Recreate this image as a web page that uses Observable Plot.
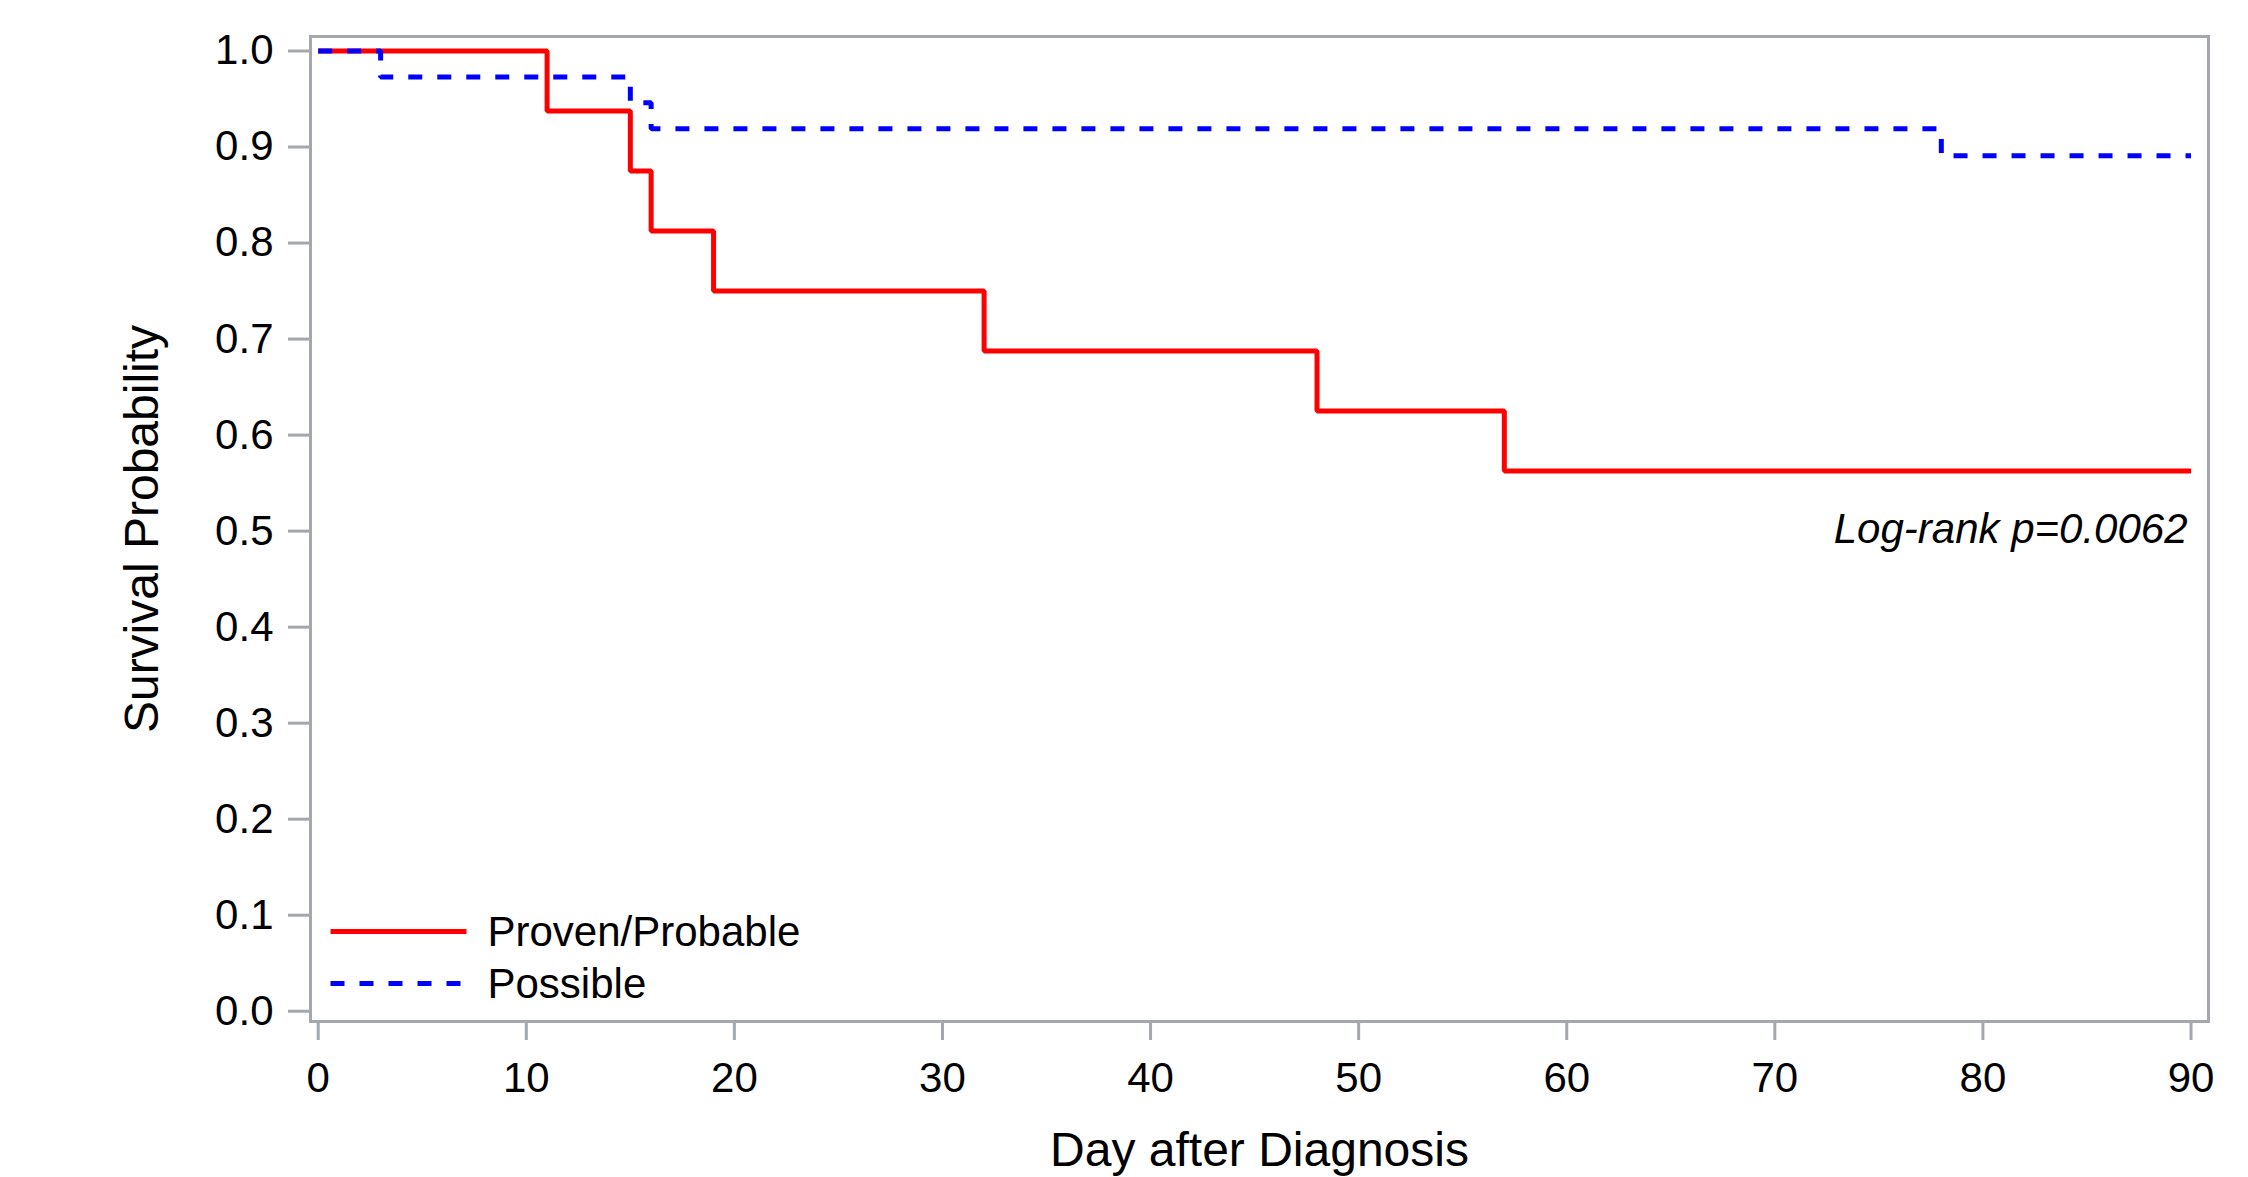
<!DOCTYPE html>
<html>
<head>
<meta charset="utf-8">
<script src="https://cdn.jsdelivr.net/npm/d3@7"></script>
<script src="https://cdn.jsdelivr.net/npm/@observablehq/plot@0.6"></script>
<style>
  html, body { margin: 0; padding: 0; background: #ffffff; }
  #chart svg { display: block; }
</style>
</head>
<body>
<div id="chart"></div>
<script>
// ---- Data ----
const seriesNames = ["Proven/Probable", "Possible"];
const provenDays = [0, 11, 15, 16, 19, 32, 48, 57, 90];
const provenSurvival = [1.0, 0.9375, 0.875, 0.8125, 0.75, 0.6875, 0.625, 0.5625, 0.5625];
const possibleDays = [0, 3, 15, 16, 78, 90];
const possibleSurvival = [1.0, 0.973, 0.946, 0.919, 0.891, 0.891];
const xTicks = [0, 10, 20, 30, 40, 50, 60, 70, 80, 90];
const yTicks = [0, 0.1, 0.2, 0.3, 0.4, 0.5, 0.6, 0.7, 0.8, 0.9, 1.0];
const xLabel = "Day after Diagnosis";
const yLabel = "Survival Probability";
const annotation = "Log-rank p=0.0062";

// ---- Build tables ----
const proven = provenDays.map((d, i) => ({day: d, surv: provenSurvival[i], group: seriesNames[0]}));
const possible = possibleDays.map((d, i) => ({day: d, surv: possibleSurvival[i], group: seriesNames[1]}));

const RED = "#ff0000";
const BLUE = "#0000ff";
const GRAY = "#a4a8ac";
const DASH = "14,15";
const LW = 5;

// horizontal line symbol for legend swatches
const lineSymbol = {
  draw(context, size) {
    const h = Math.sqrt(size / Math.PI);
    context.moveTo(-h, 0);
    context.lineTo(h, 0);
  }
};

const legendColors = [RED, BLUE];
const legendDash = [null, DASH];
const legendDy = [-90, -38];

const legendMarks = seriesNames.flatMap((name, i) => [
  Plot.dot([name], {
    frameAnchor: "bottom-left", dx: 88, dy: legendDy[i],
    symbol: lineSymbol, r: 68, fill: "none",
    stroke: legendColors[i], strokeWidth: LW,
    strokeDasharray: legendDash[i] ?? undefined, strokeLinecap: "butt"
  }),
  Plot.text([name], {
    text: d => d, frameAnchor: "bottom-left", dx: 177, dy: legendDy[i] + 1,
    textAnchor: "start", lineAnchor: "middle", fontSize: 42, fill: "black"
  })
]);

const chart = Plot.plot({
  width: 2248,
  height: 1177,
  marginLeft: 310,
  marginRight: 40,
  marginTop: 36,
  marginBottom: 156,
  style: {fontFamily: "'Liberation Sans', Arial, sans-serif", fontSize: "42px", background: "#ffffff", color: "black"},
  x: {domain: [-0.37, 90.84]},
  y: {domain: [-0.0107, 1.0151]},
  marks: [
    Plot.frame({stroke: GRAY, strokeWidth: 3}),
    Plot.axisX(xTicks, {
      tickSize: 19, tickPadding: 22, stroke: GRAY, strokeWidth: 3,
      fill: "black", fontSize: 42, label: null, tickFormat: d3.format("d")
    }),
    Plot.axisY(yTicks, {
      tickSize: 22, tickPadding: 15, stroke: GRAY, strokeWidth: 3,
      fill: "black", fontSize: 42, label: null, tickFormat: d3.format(".1f")
    }),
    Plot.line(proven, {
      x: "day", y: "surv", curve: "step-after",
      stroke: RED, strokeWidth: LW, strokeLinejoin: "miter", strokeLinecap: "butt"
    }),
    Plot.line(possible, {
      x: "day", y: "surv", curve: "step-after",
      stroke: BLUE, strokeWidth: LW, strokeDasharray: DASH, strokeLinejoin: "miter", strokeLinecap: "butt"
    }),
    Plot.text([annotation], {
      text: d => d, frameAnchor: "right", dx: -21, dy: 1,
      textAnchor: "end", lineAnchor: "middle", fontSize: 42, fontStyle: "italic", fill: "black"
    }),
    Plot.text([xLabel], {
      text: d => d, frameAnchor: "bottom", dy: 129, textAnchor: "middle", lineAnchor: "middle",
      fontSize: 48, fill: "black"
    }),
    Plot.text([yLabel], {
      text: d => d, frameAnchor: "left", rotate: -90, dx: -168, textAnchor: "middle", lineAnchor: "middle",
      fontSize: 48, fill: "black"
    }),
    ...legendMarks
  ]
});

document.getElementById("chart").appendChild(chart);
</script>
</body>
</html>
